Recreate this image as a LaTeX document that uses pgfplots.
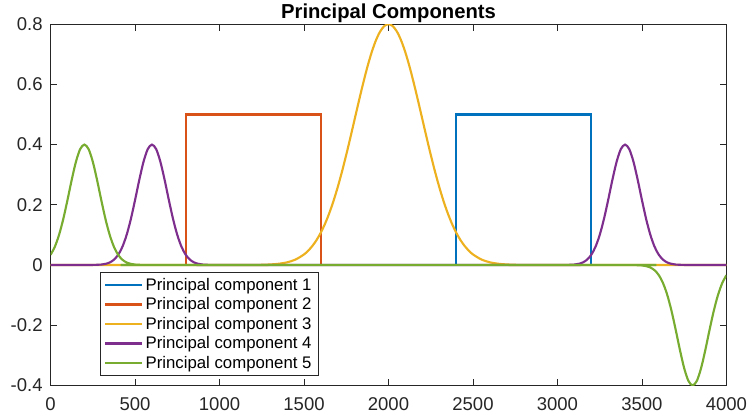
\documentclass[border=0pt]{standalone}
\usepackage{fontspec}
\setmainfont{Liberation Sans}
\usepackage{pgfplots}
\pgfplotsset{compat=1.18}

\definecolor{pcA}{rgb}{0,0.447,0.741}
\definecolor{pcB}{rgb}{0.85,0.325,0.098}
\definecolor{pcC}{rgb}{0.929,0.694,0.125}
\definecolor{pcD}{rgb}{0.494,0.184,0.556}
\definecolor{pcE}{rgb}{0.466,0.674,0.188}
\definecolor{axgray}{rgb}{0.15,0.15,0.15}

\begin{document}
\begin{tikzpicture}
\begin{axis}[
    width=507.75pt, height=271.35pt, scale only axis,
    xmin=0, xmax=4000,
    ymin=-0.4, ymax=0.8,
    xtick={0,500,1000,1500,2000,2500,3000,3500,4000},
    ytick={-0.4,-0.2,0,0.2,0.4,0.6,0.8},
    /pgf/number format/1000 sep={},
    /pgf/number format/assume math mode=true,
    tick align=inside,
    major tick length=5pt,
    axis line style={draw=axgray, line width=0.6pt},
    every tick/.style={draw=axgray, line width=0.6pt},
    ticklabel style={font=\fontsize{13.9}{16}\selectfont, text=axgray, inner sep=0pt},
    xticklabel style={yshift=-8.6pt},
    yticklabel style={xshift=-5.8pt},
    every axis title shift=0pt,
    title={\bfseries Principal Components},
    title style={font=\fontsize{15.2}{18}\selectfont, at={(0.5,1)}, anchor=base,
        yshift=4.5pt, inner sep=1pt},
    legend cell align=left,
    legend style={at={(0.073,0.313)}, anchor=north west,
        draw=axgray, line width=0.5pt,
        font=\fontsize{12.6}{15}\selectfont},
    legend image code/.code={\draw[#1] (0pt,0pt) -- (27.5pt,0pt);},
    every axis plot/.append style={line width=1.6pt},
]

\addplot[pcA] coordinates {(0,0)(2400,0)(2400,0.5)(3200,0.5)(3200,0)(4000,0)};
\addlegendentry{Principal component 1}

\addplot[pcB] coordinates {(0,0)(800,0)(800,0.5)(1600,0.5)(1600,0)(4000,0)};
\addlegendentry{Principal component 2}

\addplot[pcC, smooth] coordinates {
(0,0)(1200,0)(1250,0.0007)(1300,0.0018)(1350,0.0041)(1400,0.0089)(1450,0.0182)
(1500,0.0351)(1525,0.0477)(1550,0.0637)(1575,0.0837)(1600,0.1083)(1625,0.1379)
(1650,0.1730)(1675,0.2137)(1700,0.2598)(1725,0.3109)(1750,0.3662)(1775,0.4249)
(1800,0.4852)(1825,0.5455)(1850,0.6038)(1875,0.6581)(1900,0.7060)(1925,0.7457)
(1950,0.7754)(1975,0.7938)(2000,0.8)(2025,0.7938)(2050,0.7754)(2075,0.7457)
(2100,0.7060)(2125,0.6581)(2150,0.6038)(2175,0.5455)(2200,0.4852)(2225,0.4249)
(2250,0.3662)(2275,0.3109)(2300,0.2598)(2325,0.2137)(2350,0.1730)(2375,0.1379)
(2400,0.1083)(2425,0.0837)(2450,0.0637)(2475,0.0477)(2500,0.0351)(2550,0.0182)
(2600,0.0089)(2650,0.0041)(2700,0.0018)(2750,0.0007)(2800,0)(4000,0)};
\addlegendentry{Principal component 3}

\addplot[pcD, smooth] coordinates {
(0,0)(200,0)(250,0.0002)(300,0.0015)(325,0.0038)(350,0.0084)(375,0.0176)
(400,0.0339)(425,0.0604)(450,0.0998)(475,0.1525)(500,0.2158)(525,0.2827)
(550,0.3428)(575,0.3849)(600,0.4)(625,0.3849)(650,0.3428)(675,0.2827)
(700,0.2158)(725,0.1525)(750,0.0998)(775,0.0604)(800,0.0339)(825,0.0176)
(850,0.0084)(875,0.0038)(900,0.0015)(950,0.0002)(1000,0)(3000,0)
(3050,0.0002)(3100,0.0015)(3125,0.0038)(3150,0.0084)(3175,0.0176)(3200,0.0339)
(3225,0.0604)(3250,0.0998)(3275,0.1525)(3300,0.2158)(3325,0.2827)(3350,0.3428)
(3375,0.3849)(3400,0.4)(3425,0.3849)(3450,0.3428)(3475,0.2827)(3500,0.2158)
(3525,0.1525)(3550,0.0998)(3575,0.0604)(3600,0.0339)(3625,0.0176)(3650,0.0084)
(3675,0.0038)(3700,0.0015)(3750,0.0002)(3800,0)(4000,0)};
\addlegendentry{Principal component 4}

\addplot[pcE, smooth] coordinates {
(0,0.0339)(25,0.0604)(50,0.0998)(75,0.1525)(100,0.2158)(125,0.2827)(150,0.3428)
(175,0.3849)(200,0.4)(225,0.3849)(250,0.3428)(275,0.2827)(300,0.2158)(325,0.1525)
(350,0.0998)(375,0.0604)(400,0.0339)(425,0.0176)(450,0.0084)(475,0.0038)
(500,0.0015)(550,0.0002)(600,0)(3400,0)(3450,-0.0002)(3500,-0.0015)(3525,-0.0038)
(3550,-0.0084)(3575,-0.0176)(3600,-0.0339)(3625,-0.0604)(3650,-0.0998)
(3675,-0.1525)(3700,-0.2158)(3725,-0.2827)(3750,-0.3428)(3775,-0.3849)
(3800,-0.4)(3825,-0.3849)(3850,-0.3428)(3875,-0.2827)(3900,-0.2158)
(3925,-0.1525)(3950,-0.0998)(3975,-0.0604)(4000,-0.0339)};
\addlegendentry{Principal component 5}

\end{axis}
% margins of the figure around the axis box
\path (current axis.south west) ++(-38pt,-23.5pt);
\path (current axis.north east) ++(14.5pt,18.2pt);
\end{tikzpicture}
\end{document}
